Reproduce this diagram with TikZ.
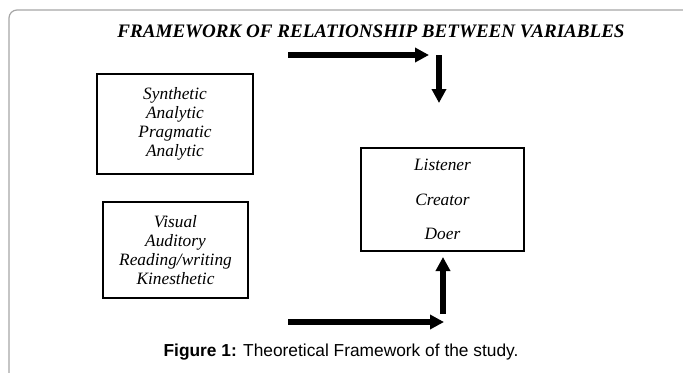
\documentclass[tikz,border=0pt]{standalone}
\usepackage{fontspec}
\setmainfont{Liberation Serif}
\setsansfont{Liberation Sans}
\usepackage{tikz}
\usetikzlibrary{arrows.meta}

\begin{document}
\begin{tikzpicture}[x=0.75pt,y=-0.75pt,
    varbox/.style={draw,line width=0.9pt,align=center,inner sep=0pt,
                   font=\itshape\fontsize{13}{14.3}\selectfont},
    flow/.style={line width=3.8pt,-{Triangle[length=10.5pt,width=10.5pt]}}]
  \useasboundingbox (0,0) rectangle (683,372);

  % frame ----------------------------------------------------------------------
  \draw[black!35,line width=0.9pt,rounded corners=6pt] (9,374) -- (9,10) -- (685,10);

  % title ----------------------------------------------------------------------
  \node (title) at (371,31)
        {\bfseries\itshape\fontsize{14.3}{17}\selectfont FRAMEWORK OF RELATIONSHIP BETWEEN VARIABLES};

  %----------------------------------------------------------------------------%
  %  boxes  -------------------------------------------------------------------%
  \node[varbox,minimum width=117pt,minimum height=75pt] (think) at (175,124)
        {Synthetic\\Analytic\\Pragmatic\\Analytic};
  \node[varbox,minimum width=108.75pt,minimum height=72pt] (sense) at (175.5,250)
        {Visual\\Auditory\\Reading/writing\\Kinesthetic};
  \node[varbox,minimum width=122.25pt,minimum height=77.25pt] (role) at (442.5,199.5)
        {Listener\\[11.5pt]Creator\\[11.5pt]Doer};

  %----------------------------------------------------------------------------%
  %  arrows  ------------------------------------------------------------------%
  %  free ends of the flow lines
  \coordinate (topL)  at (288,55);
  \coordinate (topR)  at (429,55);
  \coordinate (downS) at (439,55);
  \coordinate (downE) at (439,103);
  \coordinate (botL)  at (288,322);
  \coordinate (botR)  at (444,322);
  \coordinate (upS)   at (443,314);
  \coordinate (upE)   at (443,257);

  \draw[flow] (topL) -- (topR);
  \draw[flow] (downS) -- (downE);
  \draw[flow] (upS) -- (upE);
  \draw[flow] (botL) -- (botR);

  % caption --------------------------------------------------------------------
  \node (caption) at (341,352)
        {\sffamily\fontsize{13}{15}\selectfont\textbf{Figure 1:} Theoretical Framework of the study.};
\end{tikzpicture}
\end{document}
